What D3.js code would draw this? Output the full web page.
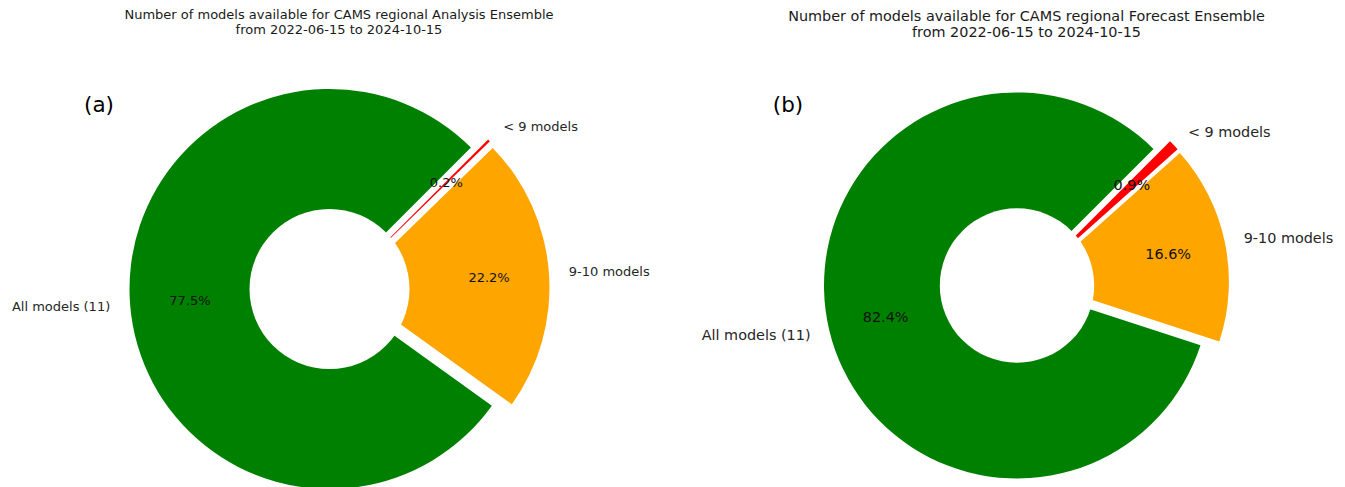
<!DOCTYPE html>
<html>
<head>
<meta charset="utf-8">
<script src="https://cdn.jsdelivr.net/npm/d3@7"></script>
<style>
  body { margin: 0; background: #fff; }
  svg text { font-family: "DejaVu Sans", sans-serif; }
</style>
</head>
<body>
<div id="chart"></div>
<script>
// Data
var categories = ["All models (11)", "9-10 models", "< 9 models"];
var analysisPct = [77.5, 22.2, 0.2];
var forecastPct = [82.4, 16.6, 0.9];
var titleLine2 = "from 2022-06-15 to 2024-10-15";

// styling
var colors = ["green", "orange", "red"];
var explode = [0, 0.1, 0.095];
// direction the slice is pushed out (deg, counter-clockwise from east);
// null = along the slice's middle. the small red slice sits in the gap.
var explodeDir = [null, null, 25];

var width = 1345, height = 487;

var svg = d3.select("#chart")
  .append("svg")
  .attr("width", width)
  .attr("height", height);

// pie drawn counter-clockwise from 45 deg, like matplotlib startangle=45
var pie = d3.pie()
  .sort(null)
  .value(function(d) { return d; })
  .startAngle(Math.PI / 4)
  .endAngle(Math.PI / 4 - 2 * Math.PI);

function drawDonut(opts) {
  var g = svg.append("g")
    .attr("transform", "translate(" + opts.cx + "," + opts.cy + ")");
  var R = opts.r;
  var fs = opts.fontSize;

  var arc = d3.arc().innerRadius(0).outerRadius(R);
  var arcs = pie(opts.values);

  function dir(a) {
    var m = (a.startAngle + a.endAngle) / 2;
    return [Math.sin(m), -Math.cos(m)];
  }
  function shift(d, i) {
    var v = dir(d);
    if (explodeDir[i] != null) {
      var t = explodeDir[i] * Math.PI / 180;
      v = [Math.cos(t), -Math.sin(t)];
    }
    return [v[0] * explode[i] * R, v[1] * explode[i] * R];
  }

  var slice = g.selectAll(".slice")
    .data(arcs)
    .enter()
    .append("g")
    .attr("class", "slice")
    .attr("transform", function(d, i) {
      var s = shift(d, i);
      return "translate(" + s[0] + "," + s[1] + ")";
    });

  slice.append("path")
    .attr("d", arc)
    .attr("fill", function(d, i) { return colors[i]; });

  // white centre circle on top (makes the donut)
  g.append("circle")
    .attr("r", R * 0.4)
    .attr("fill", "#fff");

  // labels go on top of the circle
  var lab = g.selectAll(".lab")
    .data(arcs)
    .enter()
    .append("g")
    .attr("class", "lab")
    .attr("transform", function(d, i) {
      var s = shift(d, i);
      return "translate(" + s[0] + "," + s[1] + ")";
    });

  // outer labels
  lab.append("text")
    .attr("x", function(d) { return dir(d)[0] * R * 1.1; })
    .attr("y", function(d) { return dir(d)[1] * R * 1.1; })
    .attr("text-anchor", function(d) { return dir(d)[0] > 0 ? "start" : "end"; })
    .attr("dominant-baseline", "central")
    .attr("font-size", fs)
    .attr("fill", "#262626")
    .text(function(d, i) { return categories[i]; });

  // percentages
  lab.append("text")
    .attr("x", function(d) { return dir(d)[0] * R * 0.7; })
    .attr("y", function(d) { return dir(d)[1] * R * 0.7; })
    .attr("text-anchor", "middle")
    .attr("dominant-baseline", "central")
    .attr("font-size", fs)
    .attr("fill", "#111")
    .text(function(d) { return d.data.toFixed(1) + "%"; });

  // title
  var t = svg.append("text")
    .attr("x", opts.titleX)
    .attr("y", opts.titleY)
    .attr("text-anchor", "middle")
    .attr("font-size", fs)
    .attr("fill", "#1a1a1a");
  t.append("tspan").attr("x", opts.titleX).text(opts.title);
  t.append("tspan").attr("x", opts.titleX).attr("dy", fs * 1.18).text(titleLine2);

  // panel letter
  svg.append("text")
    .attr("x", opts.tagX)
    .attr("y", opts.tagY)
    .attr("text-anchor", "middle")
    .attr("dominant-baseline", "central")
    .attr("font-size", 21.5)
    .attr("fill", "#000")
    .text(opts.tag);
}

drawDonut({
  values: analysisPct, cx: 329.5, cy: 289, r: 200, fontSize: 13,
  title: "Number of models available for CAMS regional Analysis Ensemble",
  titleX: 339, titleY: 19, tag: "(a)", tagX: 99, tagY: 104
});

drawDonut({
  values: forecastPct, cx: 1017, cy: 285.5, r: 193, fontSize: 14.4,
  title: "Number of models available for CAMS regional Forecast Ensemble",
  titleX: 1026.5, titleY: 20.5, tag: "(b)", tagX: 788, tagY: 104
});
</script>
</body>
</html>
